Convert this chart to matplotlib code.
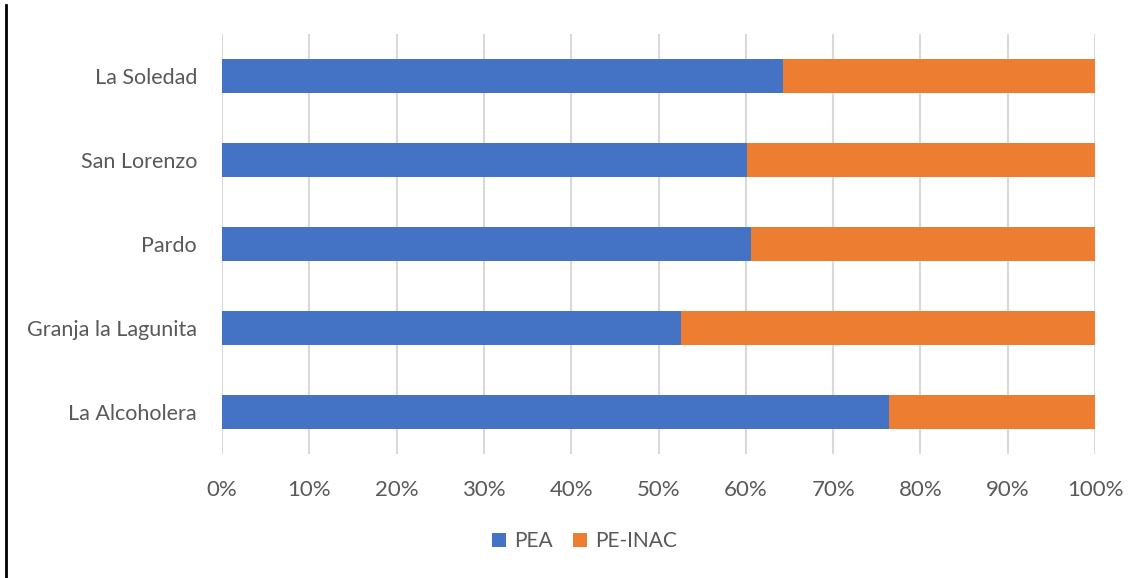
import matplotlib.pyplot as plt
from matplotlib.lines import Line2D
from matplotlib.ticker import PercentFormatter

# Data (percent of population)
localidades = ["La Alcoholera", "Granja la Lagunita", "Pardo", "San Lorenzo", "La Soledad"]
pea = [76.4, 52.6, 60.6, 60.1, 64.3]
pe_inac = [100 - v for v in pea]

plt.rcParams["font.family"] = ["Lato", "DejaVu Sans"]

fig = plt.figure(figsize=(11.42, 5.78), dpi=100)
ax = fig.add_axes([0.1944, 0.2145, 0.7645, 0.7266])

ax.barh(localidades, pea, height=0.4, color="#4472C4", label="PEA", zorder=3)
ax.barh(localidades, pe_inac, left=pea, height=0.4, color="#ED7D31", label="PE-INAC", zorder=3)

ax.set_xlim(0, 100)
ax.set_ylim(-0.5, len(localidades) - 0.5)
ax.set_xticks(range(0, 101, 10))
ax.xaxis.set_major_formatter(PercentFormatter(decimals=0))
ax.grid(axis="x", color="#D9D9D9", linewidth=1.5, zorder=0)
for s in ax.spines.values():
    s.set_visible(False)
ax.tick_params(axis="both", length=0, labelcolor="#595959")
ax.tick_params(axis="x", pad=19, labelsize=16)
ax.tick_params(axis="y", pad=18, labelsize=15.5)

fig.legend(loc="center", bbox_to_anchor=(0.512, 0.064), ncol=2, frameon=False,
           fontsize=15, labelcolor="#595959", handlelength=0.65, handleheight=0.65,
           handletextpad=0.4, columnspacing=1.0)

# black border line on the left edge
fig.add_artist(Line2D([0.005, 0.005], [0, 0.992], color="black", linewidth=2,
                      transform=fig.transFigure))

fig.savefig("out.png", dpi=100)
